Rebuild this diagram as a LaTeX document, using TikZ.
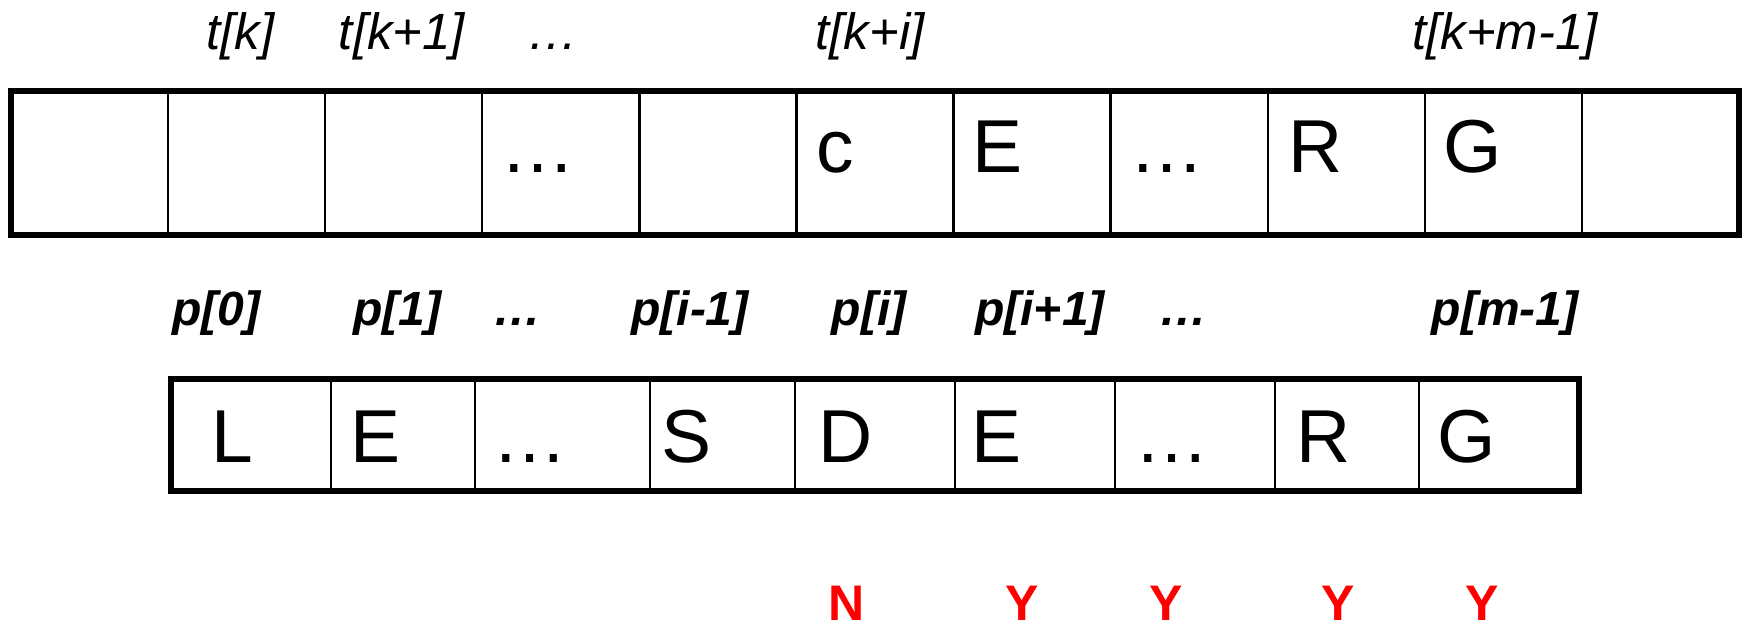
\documentclass[tikz,border=0pt]{standalone}
\usepackage{fontspec}
\setmainfont{Liberation Sans}
\begin{document}
\begin{tikzpicture}[x=1pt,y=-1pt,
  cell/.style={draw, line width=2.4pt, inner sep=0pt, outer sep=0pt},
  frame/.style={draw, line width=6pt},
  glyph/.style={anchor=base, inner sep=0pt, font=\fontsize{75}{90}\selectfont},
  tlabel/.style={anchor=base, inner sep=0pt, font=\fontsize{51}{60}\selectfont\itshape},
  plabel/.style={anchor=base, inner sep=0pt, font=\fontsize{48}{58}\selectfont\bfseries\itshape},
  verdict/.style={anchor=base, inner sep=0pt, text=red, font=\fontsize{50}{60}\selectfont\bfseries}]
\useasboundingbox (0,0) rectangle (1743,631);

% text array t: eleven equal cells
\foreach \i in {0,...,10} {
  \pgfmathsetmacro\cx{11+157.09*\i+78.545}
  \node[cell, minimum width=157.09pt, minimum height=144pt] (t\i) at (\cx,163) {};
}
\draw[frame] (t0.north west) rectangle (t10.south east);

% pattern array p
\foreach \l/\r [count=\j from 0] in {171/331,331/475,475/650,650/795,795/955,955/1115,1115/1275,1275/1419,1419/1579} {
  \pgfmathsetmacro\w{\r-\l}
  \pgfmathsetmacro\cx{(\l+\r)/2}
  \node[cell, minimum width=\w pt, minimum height=111.5pt] (p\j) at (\cx,434.75) {};
}
\draw[frame] (p0.north west) rectangle (p8.south east);

% index labels above the text
\node[tlabel] (lt1) at (240.5,50) {t[k]};
\node[tlabel] (lt2) at (402,50) {t[k+1]};
\node[tlabel] (lt3) at (553,50) {…};
\node[tlabel] (lt5) at (870,50) {t[k+i]};
\node[tlabel] (lt9) at (1505,50) {t[k+m-1]};

% text contents
\node[glyph] (ct3) at (537.5,173) {…};
\node[glyph] (ct5) at (835.5,173) {c};
\node[glyph] (ct6) at (998,173) {E};
\node[glyph] (ct7) at (1167,173) {…};
\node[glyph] (ct8) at (1315.5,173) {R};
\node[glyph] (ct9) at (1472.5,173) {G};

% index labels above the pattern
\node[plabel] (lp0) at (216,325) {p[0]};
\node[plabel] (lp1) at (397,325) {p[1]};
\node[plabel] (lp2) at (517,325) {…};
\node[plabel] (lp3) at (690,325) {p[i-1]};
\node[plabel] (lp4) at (869,325) {p[i]};
\node[plabel] (lp5) at (1040,325) {p[i+1]};
\node[plabel] (lp6) at (1183,325) {…};
\node[plabel] (lp8) at (1505,325) {p[m-1]};

% pattern contents
\node[glyph] (cp0) at (232.5,462) {L};
\node[glyph] (cp1) at (376,462) {E};
\node[glyph] (cp2) at (530,462) {…};
\node[glyph] (cp3) at (686.5,462) {S};
\node[glyph] (cp4) at (846,462) {D};
\node[glyph] (cp5) at (997,462) {E};
\node[glyph] (cp6) at (1171.5,462) {…};
\node[glyph] (cp7) at (1324,462) {R};
\node[glyph] (cp8) at (1467,462) {G};

% comparison results
\node[verdict] (v4) at (847,620) {N};
\node[verdict] (v5) at (1022,620) {Y};
\node[verdict] (v6) at (1166,620) {Y};
\node[verdict] (v7) at (1338,620) {Y};
\node[verdict] (v8) at (1482,620) {Y};
\end{tikzpicture}
\end{document}
